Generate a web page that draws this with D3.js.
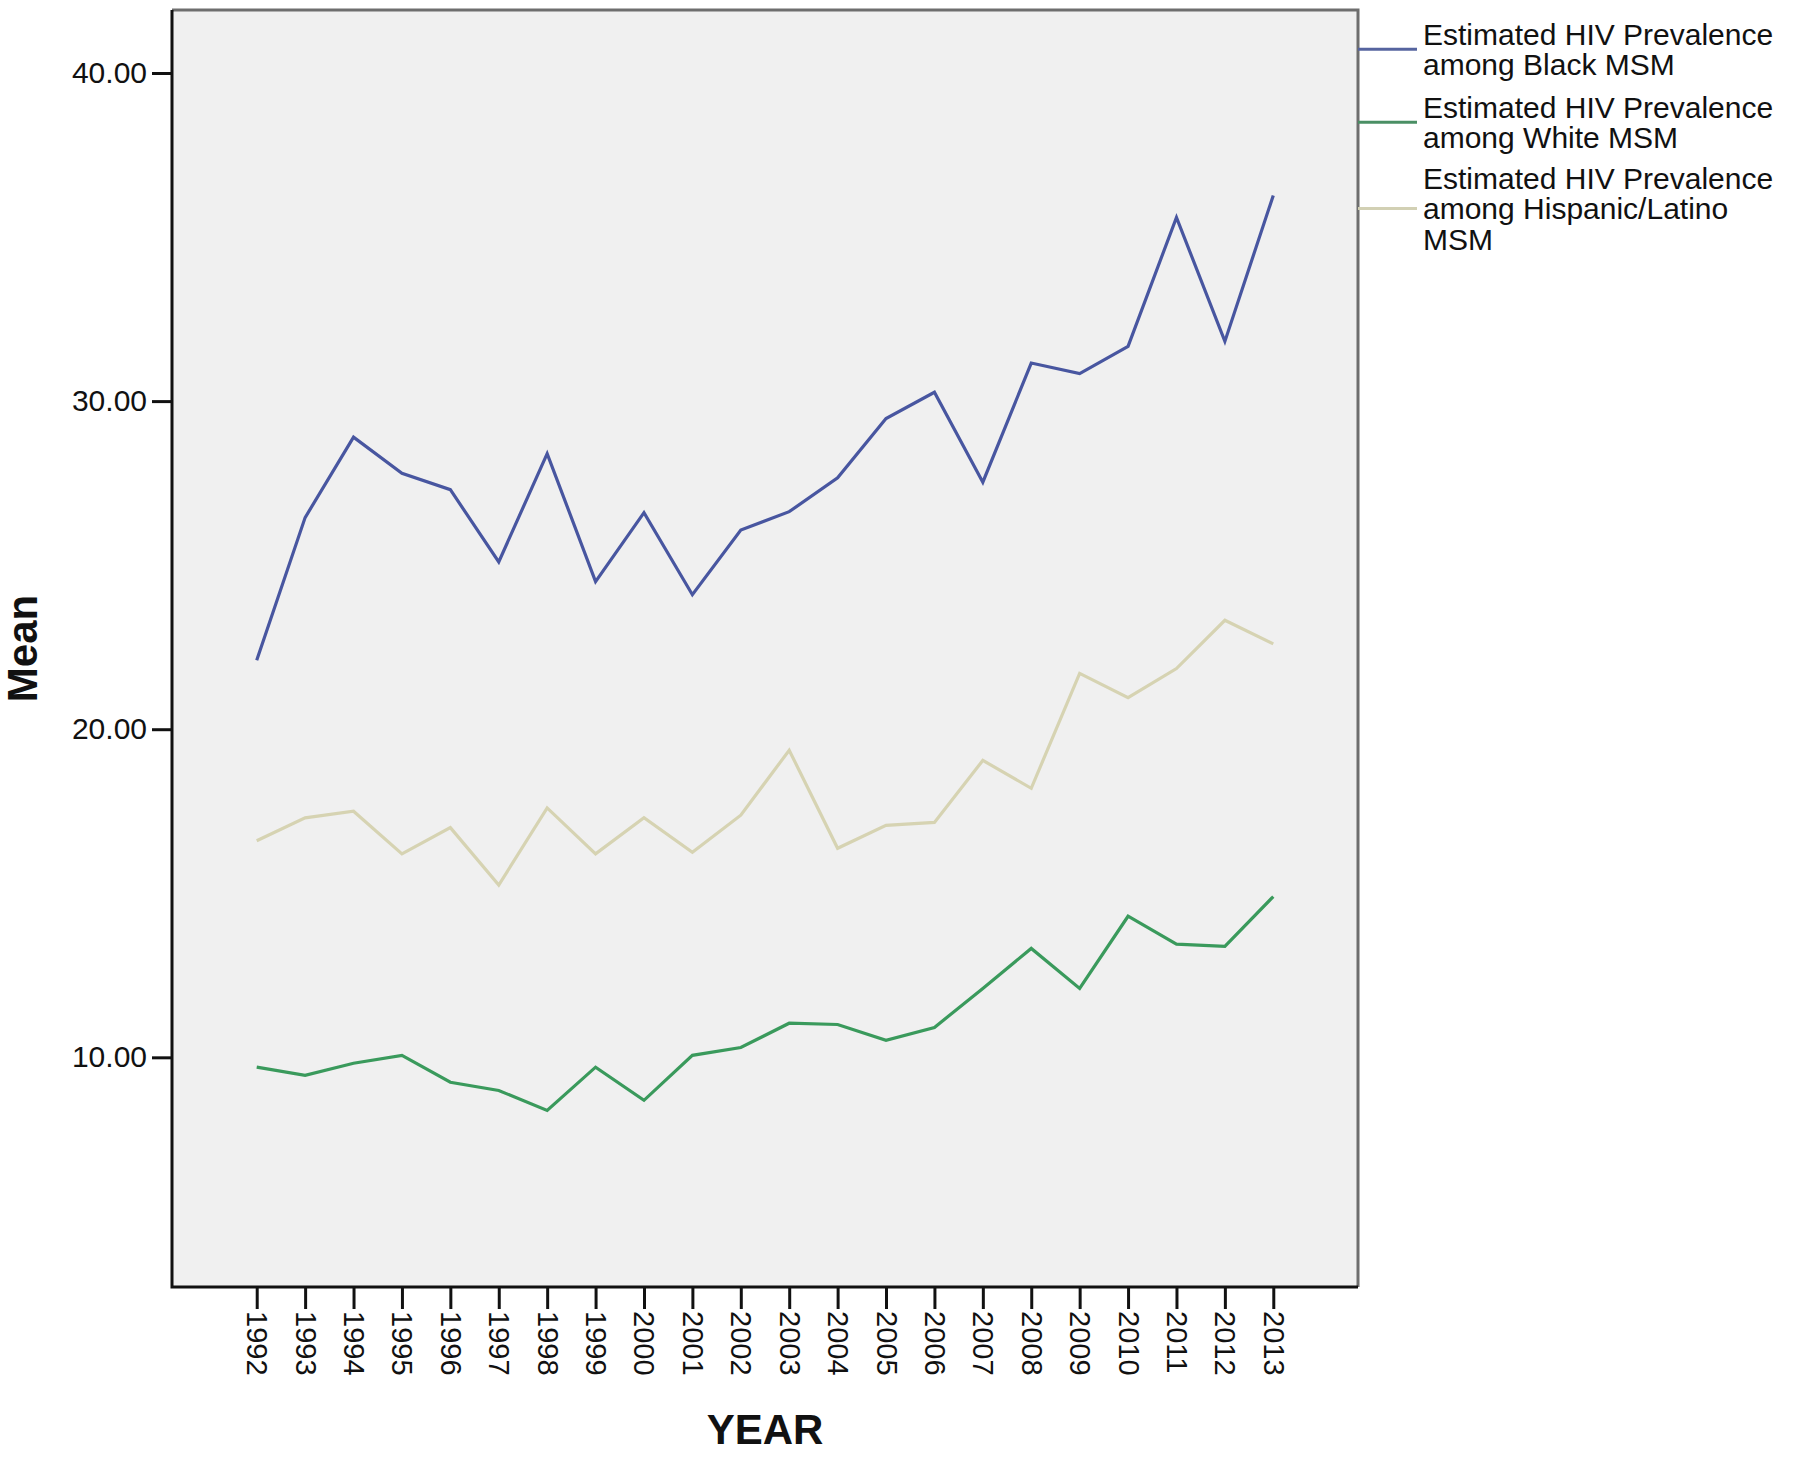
<!DOCTYPE html>
<html>
<head>
<meta charset="utf-8">
<script src="https://cdn.jsdelivr.net/npm/d3@7"></script>
<style>
  body { margin: 0; background: #fff; }
  svg { display: block; font-family: "Liberation Sans", Arial, sans-serif; }
</style>
</head>
<body>
<script>
// data
var years = ["1992", "1993", "1994", "1995", "1996", "1997", "1998", "1999", "2000", "2001", "2002",
             "2003", "2004", "2005", "2006", "2007", "2008", "2009", "2010", "2011", "2012", "2013"];
var blackMSM = [22.1, 26.45, 28.9, 27.8, 27.3, 25.1, 28.4, 24.5, 26.6, 24.1, 26.07,
                26.63, 27.66, 29.47, 30.27, 27.53, 31.16, 30.84, 31.67, 35.6, 31.82, 36.27];
var whiteMSM = [9.7, 9.45, 9.82, 10.06, 9.24, 8.99, 8.38, 9.7, 8.69, 10.06, 10.3,
                11.04, 11.0, 10.52, 10.91, 12.1, 13.32, 12.1, 14.3, 13.45, 13.38, 14.9];
var hispanicMSM = [16.6, 17.3, 17.5, 16.2, 17.0, 15.25, 17.6, 16.2, 17.3, 16.25, 17.38,
                   19.36, 16.37, 17.07, 17.16, 19.05, 18.2, 21.7, 20.96, 21.85, 23.32, 22.6];
var yTicks = [10, 20, 30, 40];
var seriesNames = [
    ["Estimated HIV Prevalence", "among Black MSM"],
    ["Estimated HIV Prevalence", "among White MSM"],
    ["Estimated HIV Prevalence", "among Hispanic/Latino", "MSM"]
];
var seriesColors = ["#4856a0", "#3a9a5c", "#d6d3b2"];
var legendColors = ["#56649f", "#4a8f64", "#d2d0b4"];

var series = [blackMSM, whiteMSM, hispanicMSM];

// plot box (window.top is reserved, so use other names)
var pLeft = 172, pRight = 1358, pTop = 10, pBottom = 1287;

var svg = d3.select("body")
    .append("svg")
    .attr("width", 1800)
    .attr("height", 1458);

var x = d3.scalePoint()
    .domain(years)
    .range([pLeft, pRight])
    .padding(1.75);

var y = d3.scaleLinear()
    .domain([3.0, 41.92])
    .range([pBottom, pTop]);

// plot background
svg.append("rect")
    .attr("x", pLeft).attr("y", pTop)
    .attr("width", pRight - pLeft).attr("height", pBottom - pTop)
    .attr("fill", "#f0f0f0");

// lines
var line = d3.line()
    .x(function (d, i) { return x(years[i]); })
    .y(function (d) { return y(d); });

// draw hispanic first so it sits beneath
[2, 1, 0].forEach(function (k) {
    svg.append("path")
        .datum(series[k])
        .attr("d", line)
        .attr("fill", "none")
        .attr("stroke", seriesColors[k])
        .attr("stroke-width", 3.2)
        .attr("stroke-linejoin", "miter");
});

// frame: grey top/right
svg.append("path")
    .attr("d", "M" + pLeft + "," + pTop + "H" + pRight + "V" + pBottom)
    .attr("fill", "none")
    .attr("stroke", "#6e6e6e")
    .attr("stroke-width", 3);

// y axis
var yAxis = d3.axisLeft(y)
    .tickValues(yTicks)
    .tickFormat(d3.format(".2f"))
    .tickSize(20)
    .tickPadding(5)
    .tickSizeOuter(0);

var gy = svg.append("g")
    .attr("transform", "translate(" + pLeft + ",0)")
    .call(yAxis);
gy.select(".domain").remove();
gy.selectAll(".tick line").attr("stroke", "#111").attr("stroke-width", 3);
gy.selectAll(".tick text")
    .attr("font-size", 30)
    .attr("fill", "#111")
    .attr("font-family", "'Liberation Sans', Arial, sans-serif");

// x axis
var xAxis = d3.axisBottom(x)
    .tickSize(22)
    .tickSizeOuter(0);

var gx = svg.append("g")
    .attr("transform", "translate(0," + pBottom + ")")
    .call(xAxis);
gx.select(".domain").remove();
gx.selectAll(".tick line").attr("stroke", "#111").attr("stroke-width", 3);
gx.selectAll(".tick text")
    .attr("font-size", 29)
    .attr("fill", "#111")
    .attr("font-family", "'Liberation Sans', Arial, sans-serif")
    .attr("text-anchor", "start")
    .attr("dominant-baseline", "central")
    .attr("dy", null)
    .attr("y", 0)
    .attr("transform", "translate(0,24) rotate(90)");

// black axis lines
svg.append("path")
    .attr("d", "M" + pLeft + "," + pTop + "V" + pBottom + "H" + pRight)
    .attr("fill", "none")
    .attr("stroke", "#111")
    .attr("stroke-width", 3);

// axis titles
svg.append("text")
    .attr("x", (pLeft + pRight) / 2)
    .attr("y", 1444)
    .attr("text-anchor", "middle")
    .attr("font-size", 42)
    .attr("font-weight", "bold")
    .attr("fill", "#111")
    .text("YEAR");

svg.append("text")
    .attr("transform", "translate(22," + ((pTop + pBottom) / 2) + ") rotate(-90)")
    .attr("text-anchor", "middle")
    .attr("dominant-baseline", "central")
    .attr("font-size", 42)
    .attr("font-weight", "bold")
    .attr("fill", "#111")
    .text("Mean");

// legend
var legendTop = [34, 107, 178];
var lineH = 30.5;
var legend = svg.append("g");
seriesNames.forEach(function (lines, k) {
    var mid = legendTop[k] + (lines.length - 1) * lineH / 2;
    legend.append("line")
        .attr("x1", pRight).attr("x2", 1417)
        .attr("y1", mid).attr("y2", mid)
        .attr("stroke", legendColors[k])
        .attr("stroke-width", 3);
    lines.forEach(function (t, j) {
        legend.append("text")
            .attr("x", 1423)
            .attr("y", legendTop[k] + j * lineH)
            .attr("dominant-baseline", "central")
            .attr("font-size", 30)
            .attr("fill", "#111")
            .text(t);
    });
});
</script>
</body>
</html>
